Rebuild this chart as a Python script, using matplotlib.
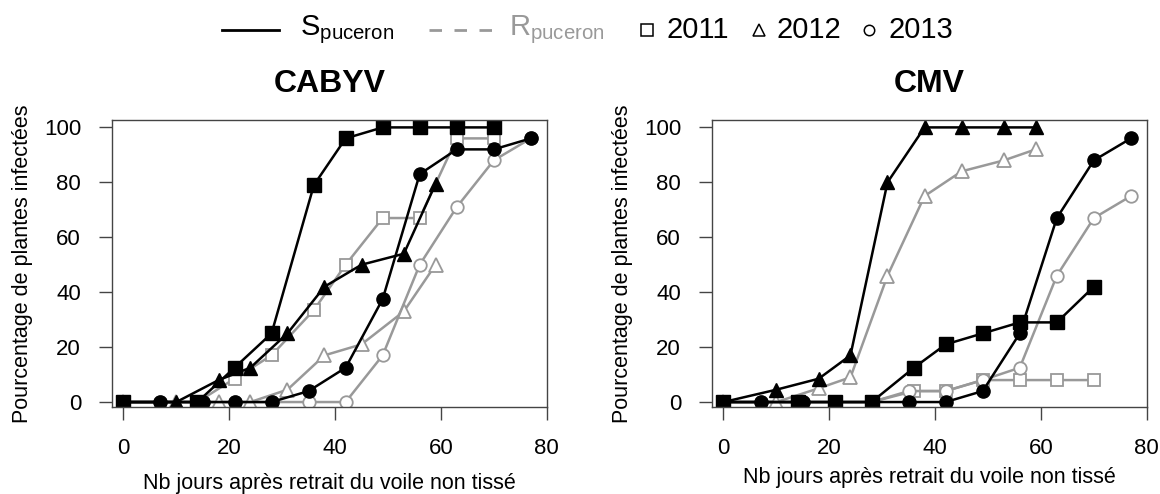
import matplotlib.pyplot as plt
from matplotlib.lines import Line2D

plt.rcParams['font.family'] = ['Liberation Sans', 'DejaVu Sans']
plt.rcParams['mathtext.fontset'] = 'custom'
plt.rcParams['mathtext.rm'] = 'Liberation Sans'

# sampling days per year
days_2011 = [0, 14, 21, 28, 36, 42, 49, 56, 63, 70]
days_2012 = [0, 10, 18, 24, 31, 38, 45, 53, 59]
days_2013 = [0, 7, 15, 21, 28, 35, 42, 49, 56, 63, 70, 77]

# CABYV, % infected plants
cabyv_s_2011 = [0, 0, 12.5, 25, 79, 96, 100, 100, 100, 100]
cabyv_r_2011 = [0, 0, 8.5, 17, 33.5, 50, 67, 67, 96, 96]
cabyv_s_2012 = [0, 0, 8, 12.5, 25, 42, 50, 54, 79.5]
cabyv_r_2012 = [0, 0, 0, 0, 4.5, 17, 21, 33, 50]
cabyv_s_2013 = [0, 0, 0, 0, 0, 4, 12.5, 37.5, 83, 92, 92, 96]
cabyv_r_2013 = [0, 0, 0, 0, 0, 0, 0, 17, 50, 71, 88, 96]

# CMV, % infected plants
cmv_s_2011 = [0, 0, 0, 0, 12.5, 21, 25, 29, 29, 42]
cmv_r_2011 = [0, 0, 0, 0, 4, 4, 8, 8, 8, 8]
cmv_s_2012 = [0, 4.5, 8.5, 17, 80, 100, 100, 100, 100]
cmv_r_2012 = [0, 0, 5, 9, 46, 75, 84, 88, 92]
cmv_s_2013 = [0, 0, 0, 0, 0, 0, 0, 4, 25, 67, 88, 96]
cmv_r_2013 = [0, 0, 0, 0, 0, 4, 4, 8, 12.5, 46, 67, 75]

GRAY = '#999999'
xlab = 'Nb jours après retrait du voile non tissé'
ylab = 'Pourcentage de plantes infectées'

fig = plt.figure(figsize=(11.6, 4.94), dpi=100)
ax1 = fig.add_axes([0.0968, 0.1767, 0.3745, 0.5804])
ax2 = fig.add_axes([0.6141, 0.1767, 0.3745, 0.5804])


def draw_panel(ax, title, s11, r11, s12, r12, s13, r13, labpad):
    # resistant (gray, open) first, susceptible (black, filled) on top
    for d, v, m in [(days_2011, r11, 's'), (days_2012, r12, '^'), (days_2013, r13, 'o')]:
        ax.plot(d, v, color=GRAY, lw=1.8, marker=m, ms=10 if m == '^' else 9,
                mfc='white', mec=GRAY, mew=1.3)
    for d, v, m in [(days_2011, s11, 's'), (days_2012, s12, '^'), (days_2013, s13, 'o')]:
        ax.plot(d, v, color='black', lw=1.8, marker=m, ms=10.5 if m == '^' else 9.5,
                mfc='black', mec='black')
    ax.set_xlim(-2.1, 80)
    ax.set_ylim(-1.7, 102.7)
    ax.set_xticks([0, 20, 40, 60, 80])
    ax.set_yticks([0, 20, 40, 60, 80, 100])
    ax.tick_params(axis='both', length=9.5, width=1, color='#444444', labelsize=16)
    ax.tick_params(axis='x', pad=13)
    ax.tick_params(axis='y', pad=13)
    for sp in ax.spines.values():
        sp.set_color('#444444')
        sp.set_linewidth(1)
    ax.set_title(title, fontsize=23, fontweight='bold', pad=20)
    ax.set_xlabel(xlab, fontsize=15.5, labelpad=labpad)
    ax.set_ylabel(ylab, fontsize=15.5, labelpad=8)


draw_panel(ax1, 'CABYV', cabyv_s_2011, cabyv_r_2011, cabyv_s_2012,
           cabyv_r_2012, cabyv_s_2013, cabyv_r_2013, 10)
draw_panel(ax2, 'CMV', cmv_s_2011, cmv_r_2011, cmv_s_2012,
           cmv_r_2012, cmv_s_2013, cmv_r_2013, 6)

# legend across the top
H = 1160.0
ly = 1 - 30 / 494.0
fs = 21
fig.add_artist(Line2D([222 / H, 279 / H], [ly, ly], color='black', lw=2))
fig.text(300 / H, ly, r'S$_{\mathrm{puceron}}$', fontsize=fs, va='center', ha='left')
fig.add_artist(Line2D([429 / H, 492 / H], [ly, ly], color=GRAY, lw=2, ls=(0, (4.5, 4.5))))
fig.text(509 / H, ly, r'R$_{\mathrm{puceron}}$', fontsize=fs, va='center', ha='left', color=GRAY)
fig.add_artist(Line2D([647 / H], [ly], marker='s', ms=8, mfc='none', mec='black', mew=1.1, ls='none'))
fig.text(666 / H, ly, '2011', fontsize=fs, va='center', ha='left')
fig.add_artist(Line2D([759 / H], [ly], marker='^', ms=9, mfc='none', mec='black', mew=1.1, ls='none'))
fig.text(776 / H, ly, '2012', fontsize=fs, va='center', ha='left')
fig.add_artist(Line2D([869 / H], [ly], marker='o', ms=7.5, mfc='none', mec='black', mew=1.1, ls='none'))
fig.text(889 / H, ly, '2013', fontsize=fs, va='center', ha='left')

fig.savefig('out.png', dpi=100)
